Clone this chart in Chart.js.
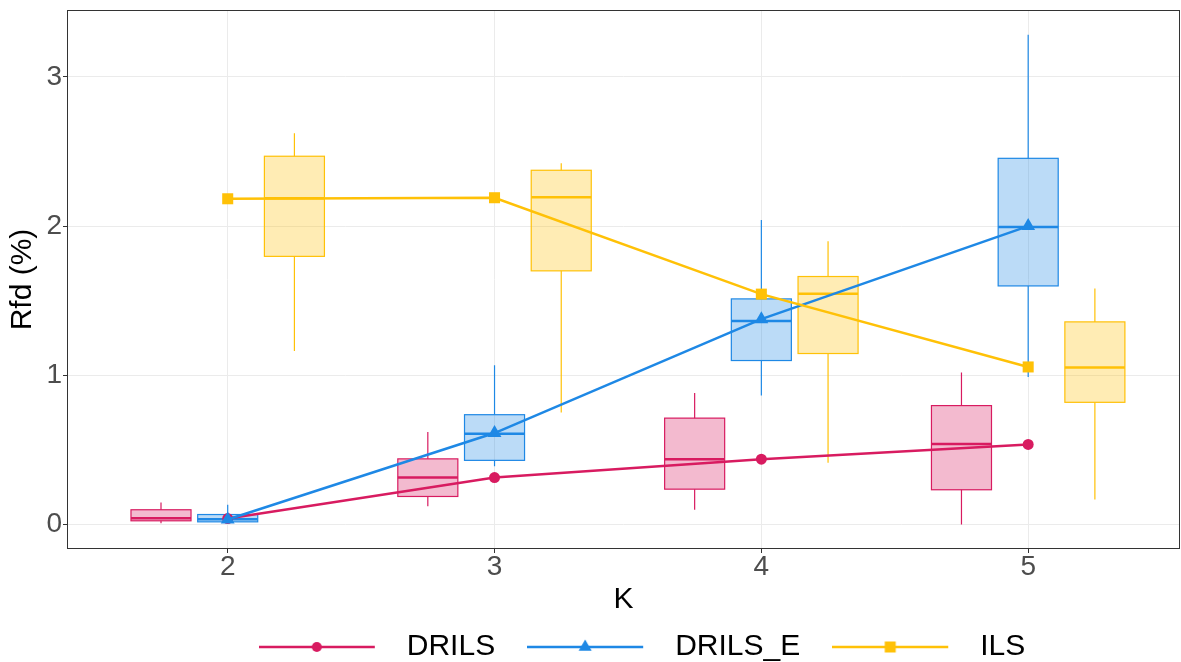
<!DOCTYPE html>
<html><head><meta charset="utf-8">
<script src="https://cdn.jsdelivr.net/npm/chart.js@4.4.1/dist/chart.umd.min.js"></script>
<style>html,body{margin:0;padding:0;background:#fff;overflow:hidden;}</style>
</head><body>
<canvas id="c" width="1181" height="662"></canvas>
<script>
// ---- data ----
const kValues = [2, 3, 4, 5];
const xTickValues = [2, 3, 4, 5];
const yTickValues = [0, 1, 2, 3];
const seriesNames = ['DRILS', 'DRILS_E', 'ILS'];
const seriesColors = ['#D81B60', '#1E88E5', '#FFC107'];

// mean lines
const drilsMean = [0.04, 0.315, 0.438, 0.537];
const drilsEMean = [0.034, 0.613, 1.376, 2.0];
const ilsMean = [2.183, 2.19, 1.544, 1.056];

// box stats per K: [min, q1, median, q3, max]
const drilsBox = [
  [0.009, 0.025, 0.042, 0.099, 0.148],
  [0.123, 0.188, 0.315, 0.44, 0.62],
  [0.099, 0.237, 0.438, 0.713, 0.881],
  [0.0, 0.233, 0.539, 0.797, 1.018]
];
const drilsEBox = [
  [0.01, 0.018, 0.036, 0.067, 0.132],
  [0.391, 0.43, 0.609, 0.736, 1.067],
  [0.864, 1.099, 1.364, 1.512, 2.04],
  [0.989, 1.599, 1.993, 2.454, 3.282]
];
const ilsBox = [
  [1.163, 1.797, 2.186, 2.468, 2.622],
  [0.75, 1.70, 2.193, 2.374, 2.421],
  [0.414, 1.146, 1.546, 1.662, 1.899],
  [0.168, 0.819, 1.052, 1.358, 1.582]
];

// ---- helpers ----
const FONT = "'Liberation Sans', Arial, Helvetica, sans-serif";
function hexToRgba(hex, a) {
  const n = parseInt(hex.slice(1), 16);
  return `rgba(${(n >> 16) & 255},${(n >> 8) & 255},${n & 255},${a})`;
}
const boxSeries = [
  { stats: drilsBox, color: seriesColors[0], offset: -0.25 },
  { stats: drilsEBox, color: seriesColors[1], offset: 0 },
  { stats: ilsBox, color: seriesColors[2], offset: 0.25 }
];
const BOX_HALF = 0.1125;

function drawMarker(ctx, style, x, y, color) {
  ctx.fillStyle = color;
  ctx.beginPath();
  if (style === 'circle') {
    ctx.arc(x, y, 5, 0, Math.PI * 2);
  } else if (style === 'triangle') {
    const r = 7.5;
    ctx.moveTo(x, y - r);
    ctx.lineTo(x + r * Math.sin(2 * Math.PI / 3), y + r / 2);
    ctx.lineTo(x - r * Math.sin(2 * Math.PI / 3), y + r / 2);
    ctx.closePath();
  } else {
    ctx.rect(x - 5.5, y - 5.5, 11, 11);
  }
  ctx.fill();
}
const markerStyles = ['circle', 'triangle', 'rect'];
function legendIcon(color, style) {
  const c = document.createElement('canvas');
  c.width = 133; c.height = 20;
  const g = c.getContext('2d');
  g.strokeStyle = color; g.lineWidth = 2.5;
  g.beginPath(); g.moveTo(0, 10); g.lineTo(116, 10); g.stroke();
  drawMarker(g, style, 58, 10, color);
  return c;
}

const boxPlugin = {
  id: 'boxes',
  beforeDatasetsDraw(chart) {
    const { ctx, chartArea: a, scales: { x, y } } = chart;
    ctx.save();
    ctx.beginPath(); ctx.rect(a.left, a.top, a.right - a.left, a.bottom - a.top); ctx.clip();
    boxSeries.forEach(s => {
      s.stats.forEach((b, i) => {
        const xc = kValues[i] + s.offset;
        const xl = x.getPixelForValue(xc - BOX_HALF);
        const xr = x.getPixelForValue(xc + BOX_HALF);
        const xm = x.getPixelForValue(xc);
        const [mn, q1, md, q3, mx] = b.map(v => y.getPixelForValue(v));
        ctx.strokeStyle = s.color;
        ctx.lineWidth = 1.2;
        ctx.beginPath();
        ctx.moveTo(xm, q3); ctx.lineTo(xm, mx);
        ctx.moveTo(xm, q1); ctx.lineTo(xm, mn);
        ctx.stroke();
        ctx.fillStyle = hexToRgba(s.color, 0.3);
        ctx.fillRect(xl, q3, xr - xl, q1 - q3);
        ctx.strokeRect(xl, q3, xr - xl, q1 - q3);
        ctx.lineWidth = 2.5;
        ctx.beginPath(); ctx.moveTo(xl, md); ctx.lineTo(xr, md); ctx.stroke();
      });
    });
    ctx.restore();
  },
  afterDatasetsDraw(chart) {
    const { ctx, chartArea: a } = chart;
    ctx.save();
    ctx.strokeStyle = '#333333'; ctx.lineWidth = 1;
    ctx.strokeRect(a.left + 0.5, a.top + 0.5, a.right - a.left - 1, a.bottom - a.top - 1);
    ctx.restore();
  },
  afterLayout(chart) {
    const lg = chart.legend;
    if (lg) { lg.left += 52; lg.right += 52; }
  }
};

const means = [drilsMean, drilsEMean, ilsMean];
const chartPointStyles = ['circle', 'triangle', 'rect'];
const pointRadii = [5.5, 8, 7.8];
const datasets = seriesNames.map((name, si) => ({
  label: name,
  data: kValues.map((k, i) => ({ x: k, y: means[si][i] })),
  borderColor: seriesColors[si],
  backgroundColor: seriesColors[si],
  pointBackgroundColor: seriesColors[si],
  borderWidth: 2.5,
  pointStyle: chartPointStyles[si],
  pointRadius: pointRadii[si],
  pointBorderWidth: 0,
  pointHoverRadius: pointRadii[si],
  tension: 0,
  order: 3 - si
}));

function zeroPad(s) { s.paddingLeft = 0; s.paddingRight = 0; s.paddingTop = 0; s.paddingBottom = 0; }

new Chart(document.getElementById('c'), {
  type: 'line',
  data: { datasets },
  plugins: [boxPlugin],
  options: {
    responsive: false,
    animation: false,
    devicePixelRatio: 1,
    layout: { autoPadding: false, padding: { left: 0, right: 1, top: 10, bottom: -10 } },
    plugins: {
      tooltip: { enabled: false },
      legend: {
        position: 'bottom',
        labels: {
          usePointStyle: true,
          pointStyleWidth: 133,
          padding: 32,
          color: '#000000',
          font: { family: FONT, size: 30 },
          generateLabels: () => seriesNames.map((n, si) => ({
            text: n,
            pointStyle: legendIcon(seriesColors[si], markerStyles[si]),
            fillStyle: seriesColors[si],
            strokeStyle: seriesColors[si],
            lineWidth: 0,
            hidden: false,
            datasetIndex: si
          }))
        }
      }
    },
    scales: {
      x: {
        type: 'linear',
        min: 1.3977,
        max: 5.569,
        afterBuildTicks: s => { s.ticks = xTickValues.map(v => ({ value: v })); },
        afterFit: s => { s.height = 51; zeroPad(s); },
        grid: { color: '#EBEBEB', lineWidth: 1, tickColor: '#333333', tickLength: 4 },
        border: { display: false },
        ticks: { color: '#4D4D4D', font: { family: FONT, size: 28, lineHeight: 1 }, padding: 0, maxRotation: 0, callback: v => String(v) },
        title: { display: true, text: 'K', color: '#000000', font: { family: FONT, size: 30 }, padding: { top: 0, bottom: -18 } }
      },
      y: {
        type: 'linear',
        min: -0.164,
        max: 3.448,
        afterBuildTicks: s => { s.ticks = yTickValues.map(v => ({ value: v })); },
        afterFit: s => { s.width = 67; zeroPad(s); },
        grid: { color: '#EBEBEB', lineWidth: 1, tickColor: '#333333', tickLength: 4 },
        border: { display: false },
        ticks: { color: '#4D4D4D', font: { family: FONT, size: 28 }, padding: 1, callback: v => String(v) },
        title: { display: true, text: 'Rfd (%)', color: '#000000', font: { family: FONT, size: 30 }, padding: { top: 5, bottom: 0 } }
      }
    }
  }
});
</script>
</body></html>
